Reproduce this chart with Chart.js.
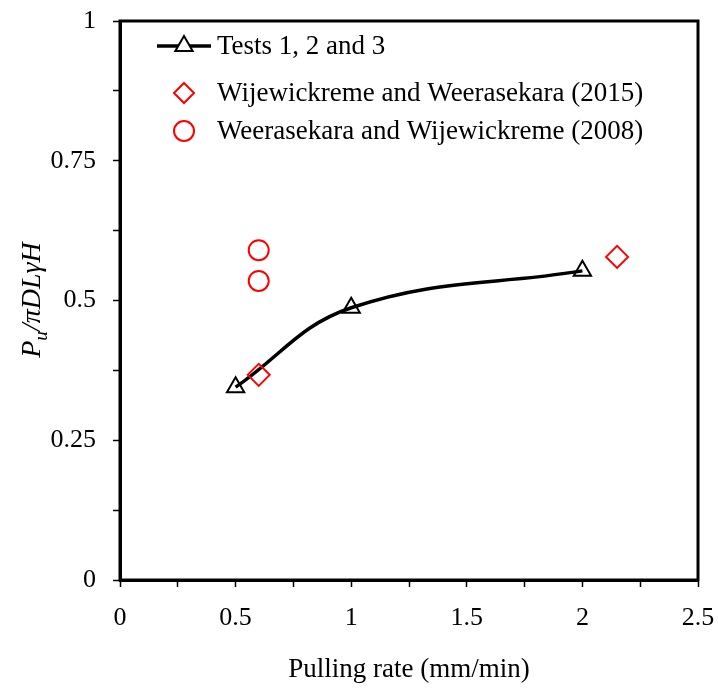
<!DOCTYPE html>
<html>
<head>
<meta charset="utf-8">
<script src="https://cdn.jsdelivr.net/npm/chart.js@4/dist/chart.umd.min.js"></script>
<style>
html,body{margin:0;padding:0;background:#fff;}
#wrap{width:719px;height:690px;position:relative;}
</style>
</head>
<body>
<div id="wrap"><canvas id="c" width="719" height="690"></canvas></div>
<script>
// Data
const testsRate = [0.5, 1.0, 2.0];
const testsValue = [0.345, 0.487, 0.553];
const wij2015Rate = [0.6, 2.15];
const wij2015Value = [0.367, 0.578];
const wee2008Rate = [0.6, 0.6];
const wee2008Value = [0.59, 0.535];
const seriesNames = ['Tests 1, 2 and 3', 'Wijewickreme and Weerasekara (2015)', 'Weerasekara and Wijewickreme (2008)'];
const xTitle = 'Pulling rate (mm/min)';

const FONT = '"Liberation Serif", "Times New Roman", serif';

const toXY = (xs, ys) => xs.map((x, i) => ({x: x, y: ys[i]}));

const framePlugin = {
  id: 'frame',
  afterDraw(chart) {
    const {ctx, chartArea: a} = chart;
    ctx.save();
    ctx.strokeStyle = '#000';
    ctx.lineWidth = 3;
    ctx.strokeRect(a.left, a.top, a.right - a.left, a.bottom - a.top);
    ctx.restore();
  }
};

const yTitlePlugin = {
  id: 'ytitle',
  afterDraw(chart) {
    const {ctx} = chart;
    ctx.save();
    ctx.translate(30, 300);
    ctx.rotate(-Math.PI / 2);
    ctx.fillStyle = '#000';
    ctx.textBaseline = 'alphabetic';
    const big = 'italic 28px ' + FONT;
    const small = 'italic 19px ' + FONT;
    const parts = [['P', big, 0], ['u', small, 7], ['/\u03C0DL\u03B3H', big, 0]];
    let total = 0;
    parts.forEach(p => { ctx.font = p[1]; total += ctx.measureText(p[0]).width; });
    let x = -total / 2;
    parts.forEach(p => {
      ctx.font = p[1];
      ctx.fillText(p[0], x, 10 + p[2]);
      x += ctx.measureText(p[0]).width;
    });
    ctx.restore();
  }
};

const legendPlugin = {
  id: 'customLegend',
  afterDraw(chart) {
    const {ctx} = chart;
    ctx.save();
    ctx.font = '27px ' + FONT;
    ctx.textBaseline = 'middle';
    const xs = 184, xt = 217;
    const rows = [46, 93, 131];
    ctx.strokeStyle = '#000';
    ctx.lineWidth = 3.5;
    ctx.beginPath(); ctx.moveTo(157, rows[0]); ctx.lineTo(211, rows[0]); ctx.stroke();
    ctx.lineWidth = 2;
    ctx.fillStyle = '#fff';
    ctx.beginPath();
    const r = 10;
    ctx.moveTo(xs, rows[0] - r);
    ctx.lineTo(xs + r * 0.866, rows[0] + r * 0.5);
    ctx.lineTo(xs - r * 0.866, rows[0] + r * 0.5);
    ctx.closePath(); ctx.fill(); ctx.stroke();
    ctx.strokeStyle = '#ff0000';
    ctx.beginPath();
    const d = 10;
    ctx.moveTo(xs, rows[1] - d); ctx.lineTo(xs + d, rows[1]); ctx.lineTo(xs, rows[1] + d); ctx.lineTo(xs - d, rows[1]);
    ctx.closePath(); ctx.stroke();
    ctx.beginPath(); ctx.arc(xs, rows[2], 10, 0, Math.PI * 2); ctx.stroke();
    ctx.fillStyle = '#000';
    seriesNames.forEach((n, i) => ctx.fillText(n, xt, rows[i] + 1));
    ctx.restore();
  }
};

new Chart(document.getElementById('c'), {
  type: 'scatter',
  data: {
    datasets: [
      {
        label: seriesNames[0],
        data: toXY(testsRate, testsValue),
        showLine: true,
        borderColor: '#000',
        borderWidth: 3.5,
        tension: 0.4,
        pointStyle: 'triangle',
        pointRadius: 10,
        pointBorderWidth: 2,
        pointBorderColor: '#000',
        pointBackgroundColor: 'rgba(255,255,255,0)',
        order: 1
      },
      {
        label: seriesNames[1],
        data: toXY(wij2015Rate, wij2015Value),
        pointStyle: 'rectRot',
        pointRadius: 11,
        pointBorderWidth: 2,
        pointBorderColor: '#ff0000',
        pointBackgroundColor: 'rgba(255,255,255,0)',
        order: 0
      },
      {
        label: seriesNames[2],
        data: toXY(wee2008Rate, wee2008Value),
        pointStyle: 'circle',
        pointRadius: 10,
        pointBorderWidth: 2,
        pointBorderColor: '#ff0000',
        pointBackgroundColor: 'rgba(255,255,255,0)',
        order: 0
      }
    ]
  },
  options: {
    responsive: false,
    animation: false,
    layout: {padding: {top: 21, right: 21, left: 0, bottom: 0}},
    plugins: {legend: {display: false}, tooltip: {enabled: false}},
    scales: {
      x: {
        type: 'linear', min: 0, max: 2.5,
        afterFit(s) { s.height = 110; s.paddingLeft = 0; s.paddingRight = 0; },
        border: {display: true, color: '#000', width: 3},
        grid: {drawOnChartArea: false, drawTicks: true, tickLength: 7, tickWidth: 1.5, tickColor: '#000'},
        ticks: {
          stepSize: 0.25, autoSkip: false, maxRotation: 0, padding: 16, color: '#000',
          font: {family: FONT, size: 26},
          callback: v => (Math.abs(v * 2 - Math.round(v * 2)) < 1e-9 ? String(v) : '')
        },
        title: {display: true, text: xTitle, color: '#000', font: {family: FONT, size: 27}, padding: {top: 6}}
      },
      y: {
        type: 'linear', min: 0, max: 1,
        afterFit(s) { s.width = 120; s.paddingTop = 0; s.paddingBottom = 0; },
        border: {display: true, color: '#000', width: 3},
        grid: {drawOnChartArea: false, drawTicks: true, tickLength: 7, tickWidth: 1.5, tickColor: '#000'},
        ticks: {
          stepSize: 0.125, autoSkip: false, padding: 17, color: '#000',
          font: {family: FONT, size: 26},
          callback: v => (Math.abs(v * 4 - Math.round(v * 4)) < 1e-9 ? String(v) : '')
        }
      }
    }
  },
  plugins: [framePlugin, yTitlePlugin, legendPlugin]
});
</script>
</body>
</html>
